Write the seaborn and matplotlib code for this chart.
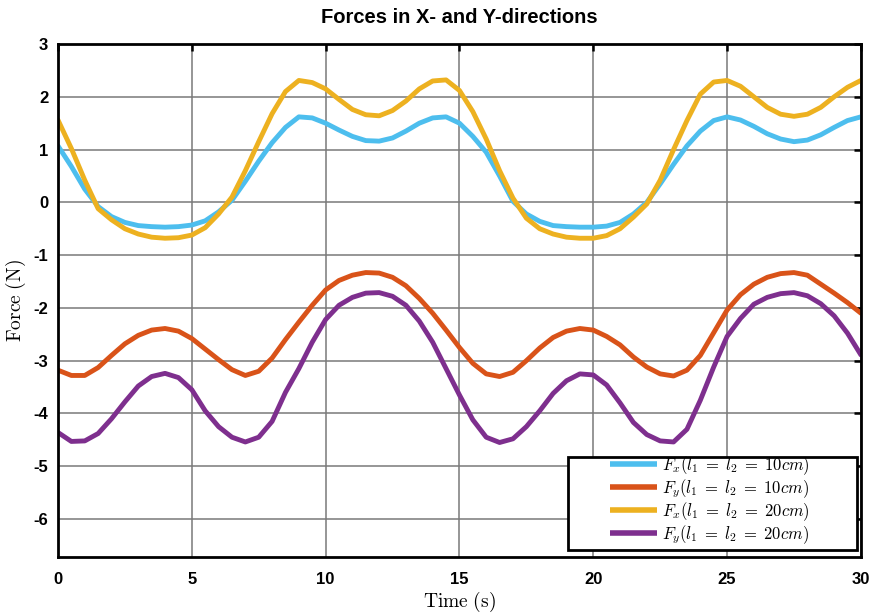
import numpy as np
import pandas as pd
import matplotlib
matplotlib.use('Agg')
import matplotlib.pyplot as plt
from matplotlib.patches import Rectangle
import seaborn as sns

# ==========================================
# Data
# ==========================================
time_s = [0.0, 0.5, 1.0, 1.5, 2.0, 2.5, 3.0, 3.5, 4.0, 4.5,
          5.0, 5.5, 6.0, 6.5, 7.0, 7.5, 8.0, 8.5, 9.0, 9.5,
          10.0, 10.5, 11.0, 11.5, 12.0, 12.5, 13.0, 13.5, 14.0, 14.5,
          15.0, 15.5, 16.0, 16.5, 17.0, 17.5, 18.0, 18.5, 19.0, 19.5,
          20.0, 20.5, 21.0, 21.5, 22.0, 22.5, 23.0, 23.5, 24.0, 24.5,
          25.0, 25.5, 26.0, 26.5, 27.0, 27.5, 28.0, 28.5, 29.0, 29.5, 30.0]

fx_10 = [1.07, 0.68, 0.25, -0.08, -0.27, -0.38, -0.44, -0.46, -0.47, -0.46,
         -0.43, -0.35, -0.18, 0.04, 0.40, 0.78, 1.13, 1.42, 1.62, 1.60,
         1.50, 1.37, 1.25, 1.17, 1.16, 1.22, 1.35, 1.50, 1.60, 1.62,
         1.50, 1.25, 0.95, 0.50, 0.02, -0.22, -0.36, -0.44, -0.46, -0.47,
         -0.47, -0.45, -0.38, -0.22, 0.00, 0.35, 0.72, 1.07, 1.35, 1.55,
         1.62, 1.56, 1.44, 1.30, 1.20, 1.15, 1.18, 1.28, 1.42, 1.55, 1.62]

fy_10 = [-3.18, -3.28, -3.28, -3.13, -2.90, -2.68, -2.52, -2.42, -2.39, -2.44,
         -2.58, -2.78, -2.98, -3.17, -3.28, -3.20, -2.95, -2.60, -2.27, -1.95,
         -1.66, -1.48, -1.38, -1.33, -1.34, -1.42, -1.58, -1.82, -2.10, -2.42,
         -2.75, -3.05, -3.25, -3.30, -3.22, -3.00, -2.76, -2.56, -2.44, -2.39,
         -2.42, -2.54, -2.70, -2.93, -3.12, -3.25, -3.29, -3.18, -2.90, -2.47,
         -2.04, -1.75, -1.55, -1.42, -1.35, -1.33, -1.38, -1.55, -1.72, -1.90, -2.10]

fx_20 = [1.56, 1.02, 0.42, -0.12, -0.33, -0.50, -0.60, -0.66, -0.68, -0.67,
         -0.62, -0.48, -0.22, 0.10, 0.60, 1.15, 1.68, 2.10, 2.31, 2.27,
         2.15, 1.95, 1.76, 1.66, 1.64, 1.74, 1.92, 2.15, 2.30, 2.32,
         2.12, 1.72, 1.20, 0.60, 0.08, -0.30, -0.50, -0.60, -0.66, -0.68,
         -0.68, -0.63, -0.50, -0.28, -0.03, 0.42, 1.00, 1.55, 2.05, 2.28,
         2.31, 2.20, 2.00, 1.80, 1.67, 1.63, 1.67, 1.80, 2.00, 2.18, 2.31]

fy_20 = [-4.36, -4.53, -4.52, -4.38, -4.10, -3.78, -3.48, -3.30, -3.24, -3.32,
         -3.55, -3.95, -4.25, -4.45, -4.54, -4.45, -4.15, -3.60, -3.15, -2.65,
         -2.22, -1.95, -1.80, -1.72, -1.71, -1.78, -1.95, -2.25, -2.65, -3.15,
         -3.65, -4.12, -4.45, -4.55, -4.48, -4.25, -3.95, -3.62, -3.38, -3.25,
         -3.27, -3.46, -3.80, -4.17, -4.40, -4.52, -4.54, -4.30, -3.75, -3.12,
         -2.54, -2.20, -1.93, -1.80, -1.73, -1.71, -1.77, -1.92, -2.15, -2.48, -2.89]

series_labels = [r'$F_x(l_1 \;=\; l_2 \;=\; 10cm)$', r'$F_y(l_1 \;=\; l_2 \;=\; 10cm)$',
                 r'$F_x(l_1 \;=\; l_2 \;=\; 20cm)$', r'$F_y(l_1 \;=\; l_2 \;=\; 20cm)$']
series_colors = ['#4DBEEE', '#D95319', '#EDB120', '#7E2F8E']

x_ticks = [0, 5, 10, 15, 20, 25, 30]
y_ticks = [3, 2, 1, 0, -1, -2, -3, -4, -5, -6]

# long format table for seaborn
frames = []
for label, vals in zip(series_labels, [fx_10, fy_10, fx_20, fy_20]):
    frames.append(pd.DataFrame({'Time': time_s, 'Force': vals, 'Series': label}))
df = pd.concat(frames, ignore_index=True)

# ==========================================
# Plot
# ==========================================
sns.set_theme(style='white')
plt.rcParams['font.family'] = ['Liberation Sans', 'DejaVu Sans']
plt.rcParams['mathtext.fontset'] = 'cm'
plt.rcParams['text.color'] = 'black'
plt.rcParams['axes.labelcolor'] = 'black'

fig = plt.figure(figsize=(8.8, 6.14), dpi=100)
ax = fig.add_axes([0.0659, 0.0928, 0.9124, 0.8355])

sns.lineplot(data=df, x='Time', y='Force', hue='Series', hue_order=series_labels,
             palette=series_colors, linewidth=3.5, solid_joinstyle='round',
             solid_capstyle='round', ax=ax)

ax.set_xlim(0, 30)
ax.set_ylim(-6.72, 3)
ax.set_xticks(x_ticks)
ax.set_yticks(y_ticks)
ax.set_xticklabels([str(v) for v in x_ticks], fontweight='bold', fontsize=12)
ax.set_yticklabels([str(v) for v in y_ticks], fontweight='bold', fontsize=12)
ax.tick_params(axis='x', pad=11)
ax.tick_params(axis='y', pad=7)
ax.tick_params(direction='in', length=5, width=1.8, top=True, right=True,
               colors='black')

ax.grid(True, color='#7a7a7a', linewidth=1.3, alpha=0.85)
ax.set_axisbelow(True)
for sp in ax.spines.values():
    sp.set_visible(True)
    sp.set_color('black')
    sp.set_linewidth(2.0)

ax.set_title('Forces in X- and Y-directions', fontweight='bold', fontsize=14.5,
             pad=15, color='black')
ax.set_xlabel(r'$\mathrm{Time\ (s)}$', fontsize=14, labelpad=2)
ax.set_ylabel(r'$\mathrm{Force\ (N)}$', fontsize=14, labelpad=4)

# legend: frame drawn separately so the box keeps the wide left margin
handles, labels = ax.get_legend_handles_labels()
leg = ax.legend(handles, labels, loc='center', bbox_to_anchor=(0.812, 0.111),
                borderaxespad=0, fontsize=12, frameon=False,
                handlelength=2.8, handletextpad=0.3, labelspacing=0.02,
                borderpad=0.2)
for line in leg.get_lines():
    line.set_linewidth(4)
    line.set_solid_capstyle('butt')
ax.add_patch(Rectangle((0.635, 0.0136), 0.360, 0.181, transform=ax.transAxes,
                       facecolor='white', edgecolor='black', linewidth=2.0,
                       zorder=4.9))
leg.set_zorder(5)

fig.savefig('out.png', dpi=100)
